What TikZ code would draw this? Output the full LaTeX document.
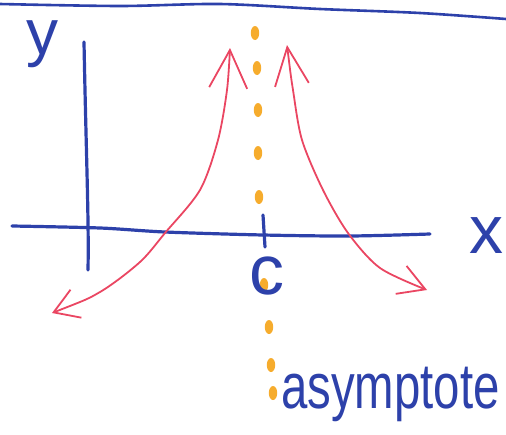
\documentclass[tikz,border=0pt]{standalone}
\usepackage{fontspec}
\setmainfont{Liberation Sans}
\usepackage{tikz}
\usetikzlibrary{arrows.meta, positioning, calc}
\definecolor{penblue}{RGB}{45,65,170}
\definecolor{penred}{RGB}{234,70,98}
\definecolor{penorange}{RGB}{246,172,45}
\tikzset{
	penline/.style={draw=penblue, line width=3.2pt, line cap=round, line join=round},
	branch/.style={draw=penred, line width=1.8pt, line cap=round},
	dashdot/.style={fill=penorange, draw=none},
	handtext/.style={text=penblue, inner sep=0pt, font=\fontsize{#1}{#1}\selectfont},
	handtext/.default=64
}

\begin{document}
\begin{tikzpicture}[x=1pt, y=-1pt]
			\useasboundingbox (0,0) rectangle (506,434);

			% top border line
			\draw[penline, line width=2.6pt] plot[smooth] coordinates
			{(0,4) (120,6) (220,4) (320,9) (420,13) (506,19)};

			% asymptote x = c
			\foreach \px/\py in {255/33, 257/68, 258/110, 258/153, 259/197,
				264/285, 269/327, 271/365, 273/393}
				\fill[dashdot] (\px,\py) ellipse [x radius=4.2pt, y radius=7pt];

			% axes
			\coordinate (ytop) at (84,42);
			\coordinate (ybot) at (88,270);
			\coordinate (xleft) at (12,226);
			\coordinate (xright) at (430,234);
			\draw[penline] (ytop) .. controls (86,150) and (89,220) .. (ybot);
			\draw[penline] plot[smooth] coordinates
			{(xleft) (100,228) (165,232) (263,235) (350,236) (xright)};
			\coordinate (tickup) at (263,215);
			\coordinate (tickdown) at (265,247);
			\draw[penline] (tickup) -- (tickdown);

			\node[handtext=64, anchor=base] (ylab) at (42,54) {y};
			\node[handtext=68] (xlab) at (486,236) {x};
			\node[handtext=70] (clab) at (267,276) {c};
			\node[handtext=64, anchor=base west, xscale=0.74] (asym) at (281,408)
			{asymptote};

			% the two branches
			\draw[branch, {Straight Barb[length=24pt, width=30pt, line width=1.8pt]}-{Straight Barb[length=38pt, width=38pt, line width=1.8pt]}]
			plot[smooth] coordinates
			{(52,313) (100,292) (140,262) (165,233) (200,190) (218,140) (227,90) (230,48)};
			\draw[branch, {Straight Barb[length=38pt, width=34pt, line width=1.8pt]}-{Straight Barb[length=26pt, width=30pt, line width=1.8pt]}]
			plot[smooth] coordinates
			{(287,45) (293,90) (302,140) (323,190) (348,233) (380,268) (427,290)};
		\end{tikzpicture}
\end{document}
